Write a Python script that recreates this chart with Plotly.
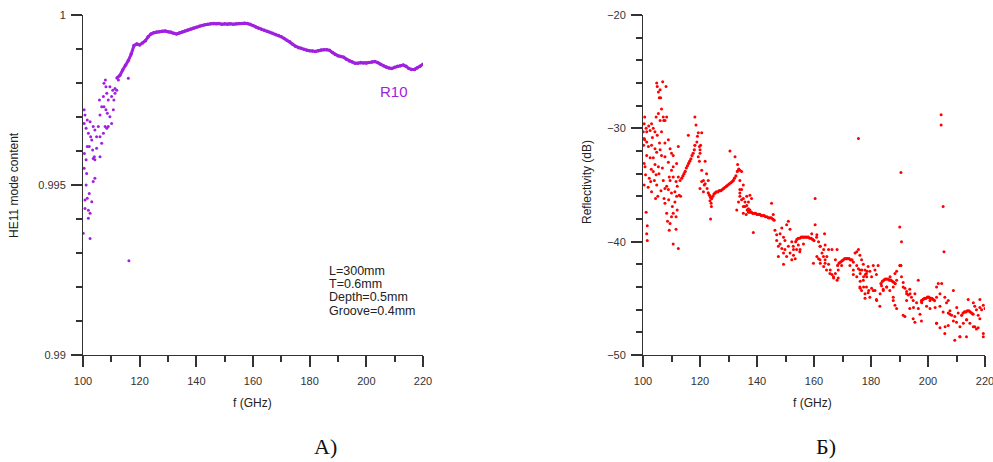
import plotly.graph_objects as go

W, H = 993, 462

# ---------------- Left panel (A): HE11 mode content ----------------
he11_scatter_f = [100.4, 100.7, 100.4, 101.1, 101.5, 102.5, 101.9, 102.7, 102.2, 103.1,
                  103.6, 104.2, 103.4, 104.0, 104.8, 105.4, 106.0, 105.8, 106.6, 107.2,
                  107.4, 108.1, 108.4, 108.9, 109.5, 110.1, 110.5, 110.9, 111.3, 111.9,
                  100.4, 101.3, 101.1, 100.7, 101.5, 100.7, 101.9, 102.5, 101.9, 102.2,
                  103.1, 102.5, 100.1, 103.6, 104.2, 104.8, 106.0, 106.6, 106.0, 107.2,
                  107.8, 108.4, 108.9, 110.1, 109.5, 108.1, 108.6, 110.7, 107.4, 100.5,
                  101.1, 101.5, 104.2, 103.6, 107.9, 111.3, 112.5, 116.2, 116.0]
he11_scatter_v = [0.99721, 0.99706, 0.99681, 0.99667, 0.99691, 0.99686, 0.99652, 0.99642, 0.99613, 0.99632,
                  0.99672, 0.99662, 0.99603, 0.99583, 0.99642, 0.99672, 0.99706, 0.99750, 0.99730, 0.99760,
                  0.99799, 0.99789, 0.99770, 0.99750, 0.99789, 0.99760, 0.99779, 0.99750, 0.99770, 0.99779,
                  0.99549, 0.99534, 0.99500, 0.99456, 0.99461, 0.99431, 0.99426, 0.99417, 0.99402, 0.99475,
                  0.99451, 0.99343, 0.99358, 0.99578, 0.99574, 0.99608, 0.99642, 0.99623, 0.99583, 0.99652,
                  0.99672, 0.99667, 0.99672, 0.99681, 0.99701, 0.99721, 0.99711, 0.99721, 0.99730, 0.99593,
                  0.99574, 0.99613, 0.99520, 0.99510, 0.99809, 0.99784, 0.99809, 0.99277, 0.99814]

he11_curve_f = list(range(112, 221))
he11_curve_v = [0.99815, 0.99822, 0.99838, 0.99852, 0.99866, 0.99885, 0.99910, 0.99915, 0.99912, 0.99918,
                0.99924, 0.99936, 0.99944, 0.99948, 0.99950, 0.99951, 0.99952, 0.99953, 0.99951, 0.99950,
                0.99946, 0.99944, 0.99947, 0.99950, 0.99953, 0.99956, 0.99959, 0.99962, 0.99964, 0.99967,
                0.99969, 0.99971, 0.99973, 0.99974, 0.99975, 0.99974, 0.99975, 0.99973, 0.99974, 0.99973,
                0.99974, 0.99973, 0.99974, 0.99975, 0.99975, 0.99976, 0.99975, 0.99973, 0.99969, 0.99965,
                0.99961, 0.99958, 0.99955, 0.99952, 0.99949, 0.99946, 0.99943, 0.99940, 0.99936, 0.99931,
                0.99926, 0.99921, 0.99914, 0.99908, 0.99904, 0.99902, 0.99899, 0.99896, 0.99895, 0.99894,
                0.99893, 0.99895, 0.99897, 0.99898, 0.99898, 0.99896, 0.99890, 0.99884, 0.99880, 0.99878,
                0.99876, 0.99870, 0.99865, 0.99862, 0.99858, 0.99858, 0.99860, 0.99859, 0.99858, 0.99860,
                0.99862, 0.99863, 0.99860, 0.99855, 0.99851, 0.99847, 0.99844, 0.99843, 0.99846, 0.99849,
                0.99851, 0.99853, 0.99849, 0.99843, 0.99840, 0.99840, 0.99845, 0.99849, 0.99855]

# ---------------- Right panel (Б): Reflectivity ----------------
refl_f = [100.6, 100.4, 101.1, 101.3, 102.5, 103.0, 103.6, 104.2, 104.6, 105.4, 106.0, 100.4, 101.3, 101.9,
          103.0, 104.2, 104.8, 106.0, 106.5, 107.1, 107.7, 108.3, 105.0, 105.4, 105.7, 106.2, 106.9, 108.1,
          106.0, 104.8, 106.5, 107.3, 107.7, 108.9, 109.5, 110.0, 110.6, 101.3, 102.5, 103.6, 104.2, 105.4,
          106.5, 107.7, 108.9, 110.0, 110.6, 111.8, 112.4, 100.4, 100.7, 102.2, 102.7, 103.6, 104.6, 104.8,
          107.1, 108.3, 109.2, 109.5, 110.6, 111.6, 112.0, 112.4, 113.0, 107.7, 108.9, 110.0, 111.2, 111.8,
          113.2, 100.4, 101.1, 101.5, 101.3, 101.5, 107.7, 108.3, 110.0, 109.5, 110.6, 111.6, 109.2, 110.6,
          112.4, 111.6, 111.2, 112.7, 100.1, 100.6, 100.2, 102.0, 103.3, 105.0, 105.8, 106.8, 102.9, 104.0,
          101.8, 103.0, 105.6, 106.3, 107.4, 109.0, 110.3, 112.0, 108.6, 100.9, 104.4, 105.2,
          118.2, 118.6, 119.4, 119.1, 118.9, 119.8, 120.0, 120.2, 115.9, 120.6, 121.2, 120.6, 121.8, 122.3,
          122.9, 120.0, 121.2, 119.4, 119.8, 121.8, 120.6, 120.0, 122.5, 121.5, 123.9, 124.0, 123.5,
          134.0, 134.6, 135.2, 134.0, 135.2, 135.8, 136.4, 137.0, 135.2, 137.5, 136.4, 137.0, 134.0, 132.9,
          133.5, 136.2, 138.7, 130.5, 132.3, 123.7, 134.6, 134.0, 133.2, 134.0, 134.6, 135.8, 137.0, 135.2,
          146.3, 146.9, 147.5, 148.1, 148.7, 149.3, 149.8, 150.4, 151.0, 151.6, 152.2, 153.4, 152.8, 151.6,
          150.4, 151.0, 148.7, 148.1, 149.3, 149.8, 152.2, 147.5, 152.8, 153.9, 149.3, 146.9, 145.7, 145.1,
          137.5, 138.1, 155.1, 154.5, 156.3, 160.4, 160.4, 161.0, 161.6, 162.2, 162.8, 163.4, 163.9, 164.5,
          165.1, 165.7, 166.3, 166.9, 167.5, 168.1, 161.0, 162.2, 163.4, 159.8, 161.6, 163.9, 165.1, 166.3,
          167.5, 168.1, 163.7, 168.5, 169.7, 172.6, 173.8, 174.4, 175.0, 175.6, 176.2, 176.8, 177.4, 178.0,
          178.6, 176.2, 177.4, 176.2, 179.2, 175.0, 175.6, 175.0, 175.6, 176.1, 176.7, 177.3, 177.9, 178.4,
          179.0, 179.6, 180.2, 180.8, 181.4, 181.9, 182.5, 177.3, 178.4, 177.9, 179.0, 180.2, 181.4, 181.9,
          176.7, 183.1, 183.7, 184.3, 185.5, 186.6, 187.8, 188.4, 189.0, 190.1, 190.7, 187.8, 188.4, 189.0,
          190.1, 190.7, 190.4, 190.5, 191.3, 191.9, 192.5, 193.1, 193.6, 194.2, 194.8, 195.4, 196.0, 191.3,
          191.9, 194.8, 195.4, 197.7, 196.6, 193.6, 192.5, 196.6, 199.5, 200.7, 197.7, 203.0, 203.6, 204.8,
          203.0, 204.2, 205.3, 205.9, 206.5, 207.1, 207.7, 208.3, 208.9, 209.4, 210.0, 210.6, 203.0, 204.2,
          205.9, 207.1, 209.4, 211.2, 213.5, 208.9, 205.3, 205.6, 204.6, 204.6, 216.4, 217.0, 217.6, 218.2,
          218.8, 219.4, 220.0, 217.0, 217.6, 216.4, 219.4, 218.2, 215.9, 214.7, 213.5, 212.4, 211.2, 214.1,
          190.5, 176.1, 178.5, 180.8, 183.2, 185.5, 187.8, 192.5, 194.9, 197.2, 200.7, 204.2, 207.7, 210.1,
          213.6, 215.9, 218.2, 219.4, 206.0, 203.0, 211.2, 162.1, 164.4, 166.8, 168.5, 173.8, 176.1, 177.9,
          179.6, 182.0, 184.3, 186.7, 189.0, 191.3, 193.7, 197.8, 202.5, 207.1, 152.7, 155.0, 159.2, 160.9,
          162.1, 163.3, 163.9, 165.6]
refl_v = [-29.0, -29.6, -30.0, -30.3, -30.2, -29.6, -30.0, -30.3, -29.0, -28.7, -29.3, -30.9, -31.2, -31.6,
          -31.5, -31.8, -32.1, -31.9, -30.3, -29.0, -29.3, -29.0, -26.3, -26.8, -27.3, -27.3, -25.9, -26.3,
          -26.6, -26.0, -28.3, -29.3, -31.3, -31.0, -31.8, -32.2, -32.4, -32.4, -32.6, -32.6, -33.2, -33.4,
          -32.4, -32.5, -33.0, -33.7, -33.4, -33.1, -31.6, -33.1, -33.4, -34.4, -34.7, -33.8, -34.1, -35.0,
          -34.6, -35.1, -34.3, -34.6, -34.3, -34.7, -35.1, -34.3, -34.6, -35.3, -35.4, -35.7, -35.6, -36.0,
          -36.0, -35.0, -37.4, -38.6, -39.3, -39.9, -36.6, -37.5, -37.8, -38.4, -37.5, -37.8, -39.0, -40.2,
          -40.6, -38.9, -36.5, -35.9, -30.3, -31.0, -31.5, -29.8, -30.8, -30.6, -31.3, -33.5, -33.6, -34.6,
          -35.2, -35.6, -34.0, -35.5, -36.2, -36.3, -36.9, -37.2, -38.2, -34.1, -36.2, -36.0,
          -29.0, -29.7, -30.4, -30.7, -31.2, -31.6, -32.2, -31.5, -30.6, -33.7, -34.6, -34.7, -34.9, -34.0,
          -34.6, -35.3, -35.6, -32.5, -32.9, -32.9, -30.4, -31.9, -35.3, -35.0, -36.6, -36.9, -36.4,
          -34.6, -35.4, -35.0, -36.0, -36.2, -36.5, -36.8, -37.1, -36.9, -37.2, -36.0, -36.5, -35.4, -37.2,
          -36.5, -37.6, -39.2, -32.0, -32.5, -38.0, -33.8, -33.7, -33.2, -35.7, -36.3, -36.9, -37.4, -37.5,
          -39.0, -39.9, -40.4, -40.2, -40.6, -41.0, -40.7, -41.3, -40.4, -41.0, -41.6, -41.5, -40.7, -38.9,
          -38.5, -38.2, -38.8, -39.3, -39.6, -39.9, -40.0, -41.3, -41.2, -40.7, -42.0, -39.4, -37.6, -36.6,
          -35.9, -36.2, -40.7, -40.3, -40.2, -36.2, -38.5, -39.4, -40.0, -40.4, -41.0, -40.7, -41.6, -41.3,
          -42.0, -42.5, -42.9, -43.2, -42.8, -43.4, -41.3, -41.9, -42.2, -41.9, -41.5, -40.3, -40.7, -40.7,
          -41.6, -40.7, -39.3, -42.5, -42.1, -42.1, -42.5, -41.0, -42.1, -42.4, -42.8, -42.5, -43.1, -42.9,
          -42.6, -43.5, -44.0, -44.1, -44.3, -43.1, -40.7, -40.9, -30.9, -41.2, -41.6, -42.0, -42.5, -42.8,
          -42.2, -42.6, -43.1, -42.1, -42.5, -42.9, -42.1, -43.4, -44.0, -45.0, -44.5, -44.1, -44.3, -45.1,
          -44.3, -45.7, -43.9, -44.2, -44.0, -44.3, -44.0, -42.8, -42.6, -42.1, -43.1, -44.9, -45.6, -45.9,
          -38.7, -40.0, -42.1, -33.9, -43.6, -44.1, -44.4, -44.7, -44.2, -44.9, -45.2, -44.6, -45.4, -46.5,
          -46.6, -46.8, -47.1, -47.0, -43.4, -45.9, -45.2, -45.9, -45.7, -45.9, -45.2, -44.0, -43.7, -43.7,
          -44.9, -45.7, -46.2, -44.9, -45.4, -46.3, -46.1, -46.5, -47.0, -46.6, -47.1, -46.3, -47.2, -47.6,
          -48.1, -47.4, -48.7, -48.4, -48.4, -44.3, -36.9, -40.9, -28.8, -29.7, -45.7, -46.0, -46.5, -46.8,
          -46.0, -45.6, -45.9, -47.7, -47.6, -47.5, -48.4, -45.1, -45.4, -47.2, -46.9, -47.2, -47.5, -45.1,
          -42.1, -42.5, -43.1, -44.3, -44.6, -44.0, -45.2, -44.6, -45.8, -46.4, -45.2, -44.6, -46.4, -45.8,
          -46.9, -47.5, -45.8, -48.1, -47.5, -47.2, -48.4, -41.6, -42.5, -43.1, -43.2, -42.9, -44.0, -44.6,
          -44.9, -45.2, -44.3, -43.1, -43.4, -44.0, -44.6, -45.4, -45.8, -45.2, -40.4, -40.9, -39.3, -39.6,
          -40.4, -41.3, -41.9, -42.8]

# resonance arcs (dense traces of points)
arc_f = [
    [113.6, 114.0, 114.4, 114.8, 115.2, 115.6, 116.0, 116.4, 116.8, 117.2, 117.6, 118.0, 118.2],
    [122.9, 123.3, 123.7, 124.1, 124.5, 124.9, 125.3, 125.8, 126.3, 126.8, 127.3, 127.8, 128.3, 128.8,
     129.3, 129.8, 130.3, 130.8, 131.3, 131.7, 132.1, 132.6, 133.1, 133.6],
    [136.6, 137.0, 137.5, 138.0, 138.5, 139.0, 139.5, 140.0, 140.5, 141.0, 141.5, 142.0, 142.5, 143.0,
     143.5, 144.0, 144.5, 145.0, 145.5, 146.0],
    [153.6, 154.0, 154.5, 155.0, 155.5, 156.0, 156.5, 157.0, 157.5, 158.0, 158.5, 159.0, 159.5, 160.0],
    [168.3, 168.8, 169.3, 169.8, 170.3, 170.8, 171.3, 171.8, 172.3, 172.8, 173.3, 173.8],
    [183.5, 184.0, 184.5, 185.0, 185.5, 186.0, 186.5, 187.0, 187.5, 188.0, 188.5],
    [197.8, 198.3, 198.8, 199.3, 199.8, 200.3, 200.8, 201.3, 201.8, 202.3],
    [211.8, 212.3, 212.8, 213.3, 213.8, 214.3, 214.8, 215.3, 215.8],
]
arc_v = [
    [-34.4, -34.2, -34.0, -33.8, -33.5, -33.3, -33.1, -32.9, -32.7, -32.4, -32.2, -31.9, -31.5],
    [-35.7, -35.9, -36.1, -36.2, -36.0, -35.8, -35.7, -35.6, -35.6, -35.5, -35.5, -35.4, -35.3, -35.2,
     -35.1, -35.0, -34.9, -34.8, -34.7, -34.6, -34.4, -34.2, -33.8, -33.6],
    [-37.2, -37.3, -37.4, -37.4, -37.5, -37.5, -37.5, -37.6, -37.6, -37.6, -37.7, -37.7, -37.7, -37.8,
     -37.8, -37.9, -37.9, -37.9, -38.0, -38.1],
    [-40.0, -39.8, -39.7, -39.7, -39.6, -39.6, -39.6, -39.6, -39.6, -39.6, -39.7, -39.7, -39.8, -39.9],
    [-42.1, -41.9, -41.8, -41.7, -41.6, -41.5, -41.5, -41.5, -41.5, -41.6, -41.6, -41.8],
    [-43.7, -43.5, -43.4, -43.3, -43.3, -43.3, -43.4, -43.4, -43.5, -43.6, -43.7],
    [-45.3, -45.1, -45.0, -45.0, -44.9, -44.9, -45.0, -45.0, -45.1, -45.2],
    [-46.5, -46.3, -46.2, -46.2, -46.1, -46.1, -46.2, -46.3, -46.4],
]

x_ticks = [100, 120, 140, 160, 180, 200, 220]
x_minor = [110, 130, 150, 170, 190, 210]
he11_ticks = [0.99, 0.995, 1.0]
he11_ticktext = ["0.99", "0.995", "1"]
he11_minor = [0.991, 0.992, 0.993, 0.994, 0.996, 0.997, 0.998, 0.999]
refl_ticks = [-50, -40, -30, -20]
refl_minor = [-48, -46, -44, -42, -38, -36, -34, -32, -28, -26, -24, -22]

PURPLE = "#a020e0"
RED = "#ff0000"
AX = "#333333"
FONT = "Arial, Liberation Sans, sans-serif"

fig = go.Figure()

fig.add_trace(go.Scatter(x=he11_curve_f, y=he11_curve_v, mode="lines+markers",
                         line=dict(color=PURPLE, width=3), marker=dict(color=PURPLE, size=3.5),
                         xaxis="x", yaxis="y", showlegend=False))
fig.add_trace(go.Scatter(x=he11_scatter_f, y=he11_scatter_v, mode="markers",
                         marker=dict(color=PURPLE, size=3), xaxis="x", yaxis="y", showlegend=False))

fig.add_trace(go.Scatter(x=refl_f, y=refl_v, mode="markers",
                         marker=dict(color=RED, size=3), xaxis="x2", yaxis="y2", showlegend=False))
for af, av in zip(arc_f, arc_v):
    fig.add_trace(go.Scatter(x=af, y=av, mode="markers", marker=dict(color=RED, size=3.2),
                             xaxis="x2", yaxis="y2", showlegend=False))

y_dom = [(H - 355) / H, (H - 15) / H]

def xaxis_cfg(dom, anchor):
    return dict(domain=dom, anchor=anchor, range=[100, 220], tickmode="array", tickvals=x_ticks,
                ticks="outside", ticklen=11, tickwidth=1.5, tickcolor=AX, automargin=False,
                showline=True, linecolor=AX, linewidth=1, showgrid=False, zeroline=False,
                tickfont=dict(family=FONT, size=11, color=AX), ticklabelstandoff=5,
                ticklabeloverflow="allow",
                minor=dict(tickmode="array", tickvals=x_minor, ticks="outside", ticklen=6,
                           tickwidth=1.5, tickcolor=AX, showgrid=False))

def yaxis_cfg(anchor, rng, tv, tt=None, minor_vals=None):
    d = dict(domain=y_dom, anchor=anchor, range=rng, tickmode="array", tickvals=tv,
             ticks="outside", ticklen=11, tickwidth=1.5, tickcolor=AX, automargin=False,
             showline=True, linecolor=AX, linewidth=1, showgrid=False, zeroline=False,
             tickfont=dict(family=FONT, size=11, color=AX), ticklabelstandoff=3,
             ticklabeloverflow="allow",
             minor=dict(tickmode="array", tickvals=minor_vals, ticks="outside", ticklen=6,
                        tickwidth=1.5, tickcolor=AX, showgrid=False))
    if tt is not None:
        d["ticktext"] = tt
    return d

fig.update_layout(
    width=W, height=H, margin=dict(l=0, r=0, t=0, b=0, autoexpand=False),
    paper_bgcolor="white", plot_bgcolor="white",
    xaxis=xaxis_cfg([83 / W, 423 / W], "y"),
    xaxis2=xaxis_cfg([643 / W, 985 / W], "y2"),
    yaxis=yaxis_cfg("x", [0.99, 1.0], he11_ticks, he11_ticktext, he11_minor),
    yaxis2=yaxis_cfg("x2", [-50, -20], refl_ticks, None, refl_minor),
)

def ann(px, py, text, size=12, color="#222", angle=0, xanchor="center", family=FONT):
    fig.add_annotation(x=px / W, y=1 - py / H, xref="paper", yref="paper", text=text,
                       showarrow=False, textangle=angle, xanchor=xanchor, yanchor="middle",
                       font=dict(family=family, size=size, color=color))

ann(252, 403, "f (GHz)")
ann(812, 403, "f (GHz)")
ann(14, 185, "HE11 mode content", angle=-90)
ann(587, 182, "Reflectivity (dB)", angle=-90)
ann(394, 91, "R10", size=15, color=PURPLE)
for py, t in zip([271, 284, 297, 311], ["L=300mm", "T=0.6mm", "Depth=0.5mm", "Groove=0.4mm"]):
    ann(327, py, t, size=12.5, xanchor="left")
ann(325, 446, "A)", size=22, color="#111", family="Liberation Serif, Times New Roman, serif")
ann(826, 446, "Б)", size=22, color="#111", family="Liberation Serif, Times New Roman, serif")

fig.write_html("out.html", config={"displayModeBar": False},
               post_script="document.body.style.margin='0';document.body.style.overflow='hidden';")
